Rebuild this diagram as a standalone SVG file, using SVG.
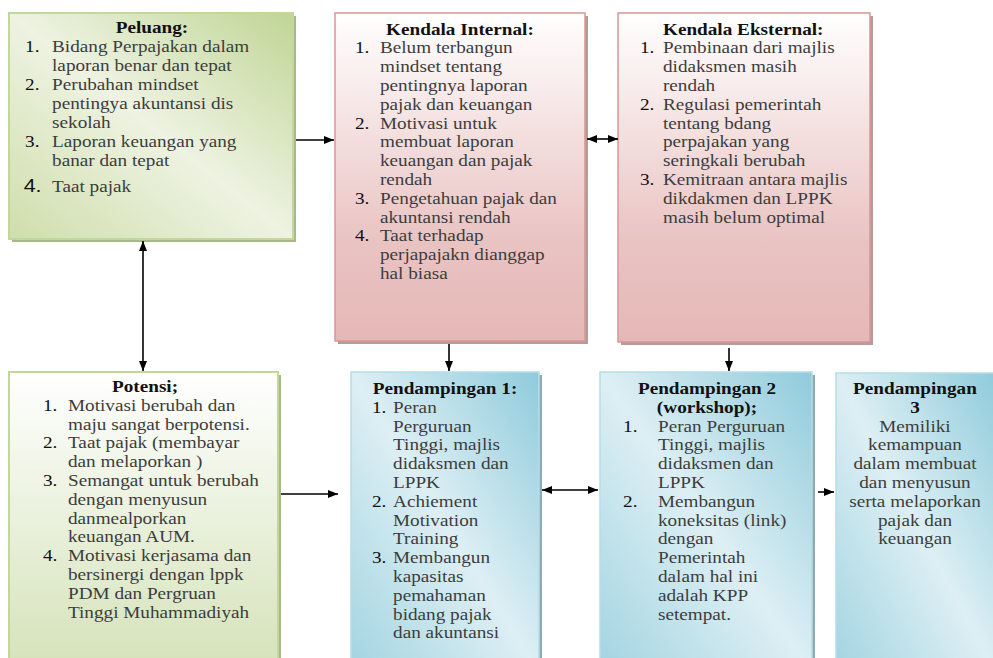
<svg xmlns="http://www.w3.org/2000/svg" width="993" height="658" viewBox="0 0 993 658">
<defs>
<linearGradient id="gGreenDiag" x1="1" y1="0" x2="0" y2="1">
<stop offset="0" stop-color="#c0d595"/>
<stop offset="0.5" stop-color="#eef3e2"/>
<stop offset="1" stop-color="#cfdeab"/>
</linearGradient>
<linearGradient id="gGreenV" x1="0" y1="0" x2="0" y2="1">
<stop offset="0" stop-color="#ffffff"/>
<stop offset="1" stop-color="#d4e2b8"/>
</linearGradient>
<linearGradient id="gPink" x1="0" y1="0" x2="0" y2="1">
<stop offset="0" stop-color="#ffffff"/>
<stop offset="0.7" stop-color="#e9c3c2"/>
<stop offset="1" stop-color="#e5b8b7"/>
</linearGradient>
<linearGradient id="gBlue" x1="1" y1="0" x2="0" y2="1">
<stop offset="0" stop-color="#8fcbdb"/>
<stop offset="0.5" stop-color="#ddeff4"/>
<stop offset="1" stop-color="#a2d4e1"/>
</linearGradient>
<marker id="ah" viewBox="0 0 10 8" refX="10" refY="4" markerWidth="10" markerHeight="8" markerUnits="userSpaceOnUse" orient="auto-start-reverse">
<path d="M0,0 L10,4 L0,8 z" fill="#000"/>
</marker>
</defs>
<style>
text{font-family:"Liberation Serif","Times New Roman",serif;font-size:17px;fill:#3d3d3d}
.t{font-weight:bold;fill:#111}
.n{fill:#111}
.c{text-anchor:middle}
.sh-g{fill:#a7b98a}
.sh-p{fill:#b59b9b}
.sh-b{fill:#8eaab3}
.bx-g{stroke:#c3d69b;stroke-width:2}
.bx-p{stroke:#d99694;stroke-width:1.5}
.bx-b{stroke:#b7dde8;stroke-width:1.5}
.cn{stroke:#000;stroke-width:1.6;fill:none}
</style>

<rect width="993" height="658" fill="#ffffff"/>

<g id="peluang">
<rect class="sh-g" x="12" y="16" width="284" height="226"/>
<rect class="bx-g" x="9" y="13" width="284" height="226" fill="url(#gGreenDiag)"/>
<g transform="translate(9,0) scale(1.13,1)">
<text class="t c" x="126.5" y="33">Peluang:</text>
<text class="n" x="14.2" y="52">1.</text>
<text x="38.1" y="52">Bidang Perpajakan dalam</text>
<text x="38.1" y="71">laporan benar dan tepat</text>
<text class="n" x="14.2" y="90">2.</text>
<text x="38.1" y="90">Perubahan mindset</text>
<text x="38.1" y="109">pentingya akuntansi dis</text>
<text x="38.1" y="128">sekolah</text>
<text class="n" x="14.2" y="147">3.</text>
<text x="38.1" y="147">Laporan keuangan yang</text>
<text x="38.1" y="166">banar dan tepat</text>
<text class="n" x="13" y="192" style="font-family:'Liberation Sans',Arial,sans-serif;font-size:19px">4.</text>
<text x="38.1" y="192">Taat pajak</text>
</g>
</g>

<g id="kendala-internal">
<rect class="sh-p" x="338" y="16" width="250" height="328"/>
<rect class="bx-p" x="335" y="13" width="250" height="328" fill="url(#gPink)"/>
<g transform="translate(335,0) scale(1.13,1)">
<text class="t c" x="110.6" y="35">Kendala Internal:</text>
<text class="n" x="17.7" y="53.5">1.</text>
<text x="39.8" y="53.5">Belum terbangun</text>
<text x="39.8" y="72.3">mindset tentang</text>
<text x="39.8" y="91.1">pentingnya laporan</text>
<text x="39.8" y="109.9">pajak dan keuangan</text>
<text class="n" x="17.7" y="128.7">2.</text>
<text x="39.8" y="128.7">Motivasi untuk</text>
<text x="39.8" y="147.5">membuat laporan</text>
<text x="39.8" y="166.3">keuangan dan pajak</text>
<text x="39.8" y="185.1">rendah</text>
<text class="n" x="17.7" y="203.9">3.</text>
<text x="39.8" y="203.9">Pengetahuan pajak dan</text>
<text x="39.8" y="222.7">akuntansi rendah</text>
<text class="n" x="17.7" y="241.5">4.</text>
<text x="39.8" y="241.5">Taat terhadap</text>
<text x="39.8" y="260.3">perjapajakn dianggap</text>
<text x="39.8" y="279.1">hal biasa</text>
</g>
</g>

<g id="kendala-eksternal">
<rect class="sh-p" x="621" y="16" width="252" height="329"/>
<rect class="bx-p" x="618" y="13" width="252" height="329" fill="url(#gPink)"/>
<g transform="translate(618,0) scale(1.13,1)">
<text class="t" x="39.8" y="35">Kendala Eksternal:</text>
<text class="n" x="19.5" y="53.5">1.</text>
<text x="39.8" y="53.5">Pembinaan dari majlis</text>
<text x="39.8" y="72.3">didaksmen masih</text>
<text x="39.8" y="91.1">rendah</text>
<text class="n" x="19.5" y="109.9">2.</text>
<text x="39.8" y="109.9">Regulasi pemerintah</text>
<text x="39.8" y="128.7">tentang bdang</text>
<text x="39.8" y="147.5">perpajakan yang</text>
<text x="39.8" y="166.3">seringkali berubah</text>
<text class="n" x="19.5" y="185.1">3.</text>
<text x="39.8" y="185.1">Kemitraan antara majlis</text>
<text x="39.8" y="203.9">dikdakmen dan LPPK</text>
<text x="39.8" y="222.7">masih belum optimal</text>
</g>
</g>

<g id="potensi">
<rect class="sh-g" x="12" y="375" width="269" height="300"/>
<rect class="bx-g" x="9" y="372" width="269" height="300" fill="url(#gGreenV)"/>
<g transform="translate(9,0) scale(1.13,1)">
<text class="t c" x="120.4" y="392">Potensi;</text>
<text class="n" x="30.1" y="410.8">1.</text>
<text x="52.2" y="410.8">Motivasi berubah dan</text>
<text x="52.2" y="429.6">maju sangat berpotensi.</text>
<text class="n" x="30.1" y="448.4">2.</text>
<text x="52.2" y="448.4">Taat pajak (membayar</text>
<text x="52.2" y="467.2">dan melaporkan )</text>
<text class="n" x="30.1" y="486">3.</text>
<text x="52.2" y="486">Semangat untuk berubah</text>
<text x="52.2" y="504.8">dengan menyusun</text>
<text x="52.2" y="523.6">danmealporkan</text>
<text x="52.2" y="542.4">keuangan AUM.</text>
<text class="n" x="30.1" y="561.2">4.</text>
<text x="52.2" y="561.2">Motivasi kerjasama dan</text>
<text x="52.2" y="580">bersinergi dengan lppk</text>
<text x="52.2" y="598.8">PDM dan Pergruan</text>
<text x="52.2" y="617.6">Tinggi Muhammadiyah</text>
</g>
</g>

<g id="pendampingan-1">
<rect class="sh-b" x="354" y="375" width="188" height="300"/>
<rect class="bx-b" x="351" y="372" width="188" height="300" fill="url(#gBlue)"/>
<g transform="translate(351,0) scale(1.13,1)">
<text class="t c" x="83.2" y="394">Pendampingan 1:</text>
<text class="n" x="18.6" y="412.8">1.</text>
<text x="37.2" y="412.8">Peran</text>
<text x="37.2" y="431.6">Perguruan</text>
<text x="37.2" y="450.4">Tinggi, majlis</text>
<text x="37.2" y="469.2">didaksmen dan</text>
<text x="37.2" y="488">LPPK</text>
<text class="n" x="18.6" y="506.8">2.</text>
<text x="37.2" y="506.8">Achiement</text>
<text x="37.2" y="525.6">Motivation</text>
<text x="37.2" y="544.4">Training</text>
<text class="n" x="18.6" y="563.2">3.</text>
<text x="37.2" y="563.2">Membangun</text>
<text x="37.2" y="582">kapasitas</text>
<text x="37.2" y="600.8">pemahaman</text>
<text x="37.2" y="619.6">bidang pajak</text>
<text x="37.2" y="638.4">dan akuntansi</text>
</g>
</g>

<g id="pendampingan-2">
<rect class="sh-b" x="603" y="375" width="212" height="300"/>
<rect class="bx-b" x="600" y="372" width="212" height="300" fill="url(#gBlue)"/>
<g transform="translate(600,0) scale(1.13,1)">
<text class="t c" x="94.7" y="394">Pendampingan 2</text>
<text class="t c" x="94.7" y="412.8">(workshop);</text>
<text class="n" x="20.4" y="431.6">1.</text>
<text x="51.3" y="431.6">Peran Perguruan</text>
<text x="51.3" y="450.4">Tinggi, majlis</text>
<text x="51.3" y="469.2">didaksmen dan</text>
<text x="51.3" y="488">LPPK</text>
<text class="n" x="20.4" y="506.8">2.</text>
<text x="51.3" y="506.8">Membangun</text>
<text x="51.3" y="525.6">koneksitas (link)</text>
<text x="51.3" y="544.4">dengan</text>
<text x="51.3" y="563.2">Pemerintah</text>
<text x="51.3" y="582">dalam hal ini</text>
<text x="51.3" y="600.8">adalah KPP</text>
<text x="51.3" y="619.6">setempat.</text>
</g>
</g>

<g id="pendampingan-3">
<rect class="sh-b" x="839" y="376" width="160" height="300"/>
<rect class="bx-b" x="836" y="373" width="160" height="300" fill="url(#gBlue)"/>
<g transform="translate(836,0) scale(1.13,1)">
<text class="t c" x="69.9" y="394">Pendampingan</text>
<text class="t c" x="69.9" y="412.8">3</text>
<text class="c" x="69.9" y="431.6">Memiliki</text>
<text class="c" x="69.9" y="450.4">kemampuan</text>
<text class="c" x="69.9" y="469.2">dalam membuat</text>
<text class="c" x="69.9" y="488">dan menyusun</text>
<text class="c" x="69.9" y="506.8">serta melaporkan</text>
<text class="c" x="69.9" y="525.6">pajak dan</text>
<text class="c" x="69.9" y="544.4">keuangan</text>
</g>
</g>

<g id="connectors">
<line class="cn" x1="143" y1="241" x2="143" y2="371" marker-start="url(#ah)" marker-end="url(#ah)"/>
<line class="cn" x1="296" y1="140" x2="334" y2="140" marker-end="url(#ah)"/>
<line class="cn" x1="587" y1="139" x2="618" y2="139" marker-start="url(#ah)" marker-end="url(#ah)"/>
<line class="cn" x1="449" y1="344" x2="449" y2="371" marker-end="url(#ah)"/>
<line class="cn" x1="729" y1="348" x2="729" y2="371" marker-end="url(#ah)"/>
<line class="cn" x1="281" y1="494" x2="338" y2="494" marker-end="url(#ah)"/>
<line class="cn" x1="542" y1="490" x2="598" y2="490" marker-start="url(#ah)" marker-end="url(#ah)"/>
<line class="cn" x1="818" y1="492" x2="834" y2="492" marker-end="url(#ah)"/>
</g>
</svg>
